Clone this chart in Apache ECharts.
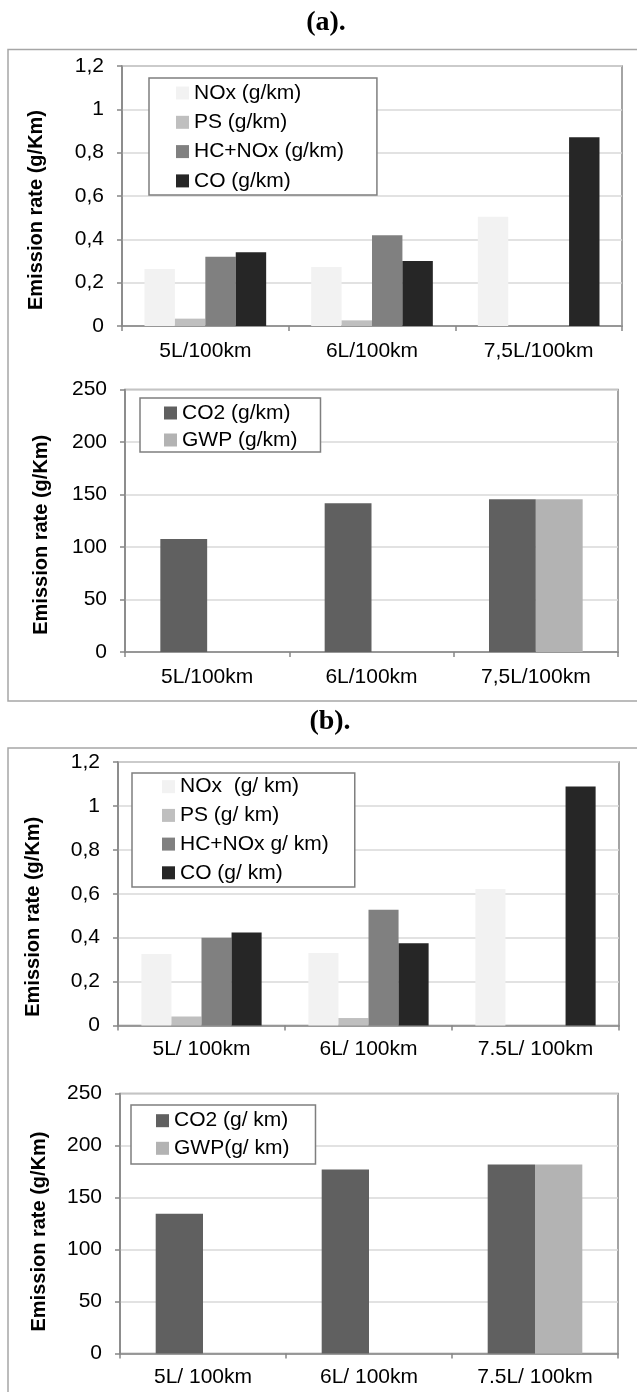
<!DOCTYPE html>
<html>
<head>
<meta charset="utf-8">
<script src="https://cdn.jsdelivr.net/npm/echarts@6/dist/echarts.min.js"></script>
<style>
	html, body { margin: 0; padding: 0; background: #ffffff; }
	#chart { width: 637px; height: 1392px; }
</style>
</head>
<body>
<div id="chart"></div>
<script>
	//类别
	var categoriesA = ["5L/100km", "6L/100km", "7,5L/100km"];
	var categoriesB = ["5L/ 100km", "6L/ 100km", "7.5L/ 100km"];
	//图例名称
	var gasNamesA = ["NOx (g/km)", "PS (g/km)", "HC+NOx (g/km)", "CO (g/km)"];
	var gasNamesB = ["NOx  (g/ km)", "PS (g/ km)", "HC+NOx g/ km)", "CO (g/ km)"];
	var co2NamesA = ["CO2 (g/km)", "GWP (g/km)"];
	var co2NamesB = ["CO2 (g/ km)", "GWP(g/ km)"];
	//(a) 数据
	var noxA = [0.263, 0.272, 0.504];
	var psA = [0.034, 0.026, 0];
	var hcNoxA = [0.32, 0.419, 0];
	var coA = [0.34, 0.3, 0.871];
	var co2A = [107.6, 141.7, 145.5];
	var gwpA = [0, 0, 145.5];
	//(b) 数据
	var noxB = [0.326, 0.33, 0.622];
	var psB = [0.041, 0.034, 0];
	var hcNoxB = [0.4, 0.527, 0];
	var coB = [0.423, 0.375, 1.088];
	var co2B = [134.3, 177, 181.7];
	var gwpB = [0, 0, 181.7];
	//颜色
	var gasColors = ["#f2f2f2", "#bfbfbf", "#808080", "#262626"];
	var co2Colors = ["#606060", "#b3b3b3"];

	var fontFamily = 'Arial, "Liberation Sans", sans-serif';
	var lineGrey = "#868686";
	var fontSize = 21;

	function makeGrid(left, right, top, height) {
		return {
			left: left,
			right: right,
			top: top,
			height: height,
			show: true,
			borderColor: lineGrey,
			borderWidth: 1.5,
			containLabel: false,
			outerBoundsMode: "none",
		};
	}

	function makeXAxis(idx, cats, margin) {
		return {
			type: "category",
			gridIndex: idx,
			data: cats,
			axisLine: { lineStyle: { color: lineGrey, width: 1.5 } },
			axisTick: { show: true, length: 5, interval: 0, lineStyle: { color: lineGrey, width: 1.5 } },
			axisLabel: { color: "#000", fontSize: fontSize, fontFamily: fontFamily, margin: margin, interval: 0 },
			splitLine: { show: false },
		};
	}

	function makeYAxis(idx, max, interval, nameGap, shift, comma) {
		return {
			type: "value",
			gridIndex: idx,
			min: 0,
			max: max,
			interval: interval,
			name: "Emission rate (g/Km)",
			nameLocation: "middle",
			nameRotate: 90,
			nameGap: nameGap,
			nameTextStyle: {
				color: "#000",
				fontSize: 20,
				fontWeight: "bold",
				fontFamily: fontFamily,
				padding: [0, shift, 0, 0],
			},
			axisLine: { show: true, lineStyle: { color: lineGrey, width: 1.5 } },
			axisTick: { show: true, length: 5, lineStyle: { color: lineGrey, width: 1.5 } },
			axisLabel: {
				color: "#000",
				fontSize: fontSize,
				fontFamily: fontFamily,
				margin: 18,
				formatter: function (v) {
					var s = String(Math.round(v * 10) / 10);
					return comma ? s.replace(".", ",") : s;
				},
			},
			splitLine: { show: true, lineStyle: { color: "#d9d9d9", width: 1.5 } },
		};
	}

	function makeLegend(names, left, top, pad, gap) {
		return {
			data: names,
			orient: "vertical",
			left: left,
			top: top,
			padding: pad,
			itemGap: gap,
			itemWidth: 13,
			itemHeight: 13,
			icon: "rect",
			selectedMode: false,
			borderColor: "#7f7f7f",
			borderWidth: 1.5,
			backgroundColor: "#ffffff",
			textStyle: { color: "#000", fontSize: fontSize, fontFamily: fontFamily },
		};
	}

	function makeBar(name, idx, data, color, catGap) {
		return {
			name: name,
			type: "bar",
			xAxisIndex: idx,
			yAxisIndex: idx,
			data: data,
			barGap: "0%",
			barCategoryGap: catGap,
			itemStyle: { color: color },
			emphasis: { disabled: true },
			animation: false,
		};
	}

	function makeTitle(text, x, y) {
		return {
			type: "text",
			x: x,
			y: y,
			style: {
				text: text,
				font: 'bold 28px "Liberation Serif", "Times New Roman", serif',
				fill: "#000",
				align: "center",
				verticalAlign: "middle",
				textAlign: "center",
				textVerticalAlign: "middle",
			},
			silent: true,
		};
	}

	var chart = echarts.init(document.getElementById("chart"), null, { renderer: "canvas" });

	var series = [];
	var gasA = [noxA, psA, hcNoxA, coA];
	var gasB = [noxB, psB, hcNoxB, coB];
	for (var i = 0; i < 4; i++) {
		series.push(makeBar(gasNamesA[i], 0, gasA[i], gasColors[i], "27%"));
	}
	series.push(makeBar(co2NamesA[0], 1, co2A, co2Colors[0], "43%"));
	series.push(makeBar(co2NamesA[1], 1, gwpA, co2Colors[1], "43%"));
	for (var j = 0; j < 4; j++) {
		series.push(makeBar(gasNamesB[j], 2, gasB[j], gasColors[j], "28%"));
	}
	series.push(makeBar(co2NamesB[0], 3, co2B, co2Colors[0], "43%"));
	series.push(makeBar(co2NamesB[1], 3, gwpB, co2Colors[1], "43%"));

	var option = {
		animation: false,
		textStyle: { fontFamily: fontFamily },
		graphic: [
			{
				type: "rect",
				shape: { x: 8, y: 49.5, width: 640, height: 651.5 },
				style: { fill: "none", stroke: "#a6a6a6", lineWidth: 1.5 },
				silent: true,
			},
			{
				type: "rect",
				shape: { x: 8, y: 748, width: 640, height: 700 },
				style: { fill: "none", stroke: "#a6a6a6", lineWidth: 1.5 },
				silent: true,
			},
			makeTitle("(a).", 326, 23),
			makeTitle("(b).", 330, 722),
		],
		grid: [
			makeGrid(122, 15, 66, 260),
			makeGrid(125, 19, 389.5, 262.5),
			makeGrid(118, 18, 762, 263.5),
			makeGrid(120, 19, 1093.5, 260),
		],
		xAxis: [
			makeXAxis(0, categoriesA, 14.5),
			makeXAxis(1, categoriesA, 14.5),
			makeXAxis(2, categoriesB, 13.5),
			makeXAxis(3, categoriesB, 13.5),
		],
		yAxis: [
			makeYAxis(0, 1.2, 0.2, 76, 28, true),
			makeYAxis(1, 250, 50, 74, 28, false),
			makeYAxis(2, 1.2, 0.2, 75, 46, true),
			makeYAxis(3, 250, 50, 71, 16, false),
		],
		legend: [
			makeLegend(gasNamesA, 149, 78, [4.5, 33, 3.5, 27], 8.3),
			makeLegend(co2NamesA, 140, 398, [4.5, 23, 1.5, 24], 6),
			makeLegend(gasNamesB, 132, 773, [3.2, 26, 3.8, 30], 7.7),
			makeLegend(co2NamesB, 131, 1105, [5.2, 26, 5.2, 25], 6.6),
		],
		series: series,
	};

	chart.setOption(option);
</script>
</body>
</html>
